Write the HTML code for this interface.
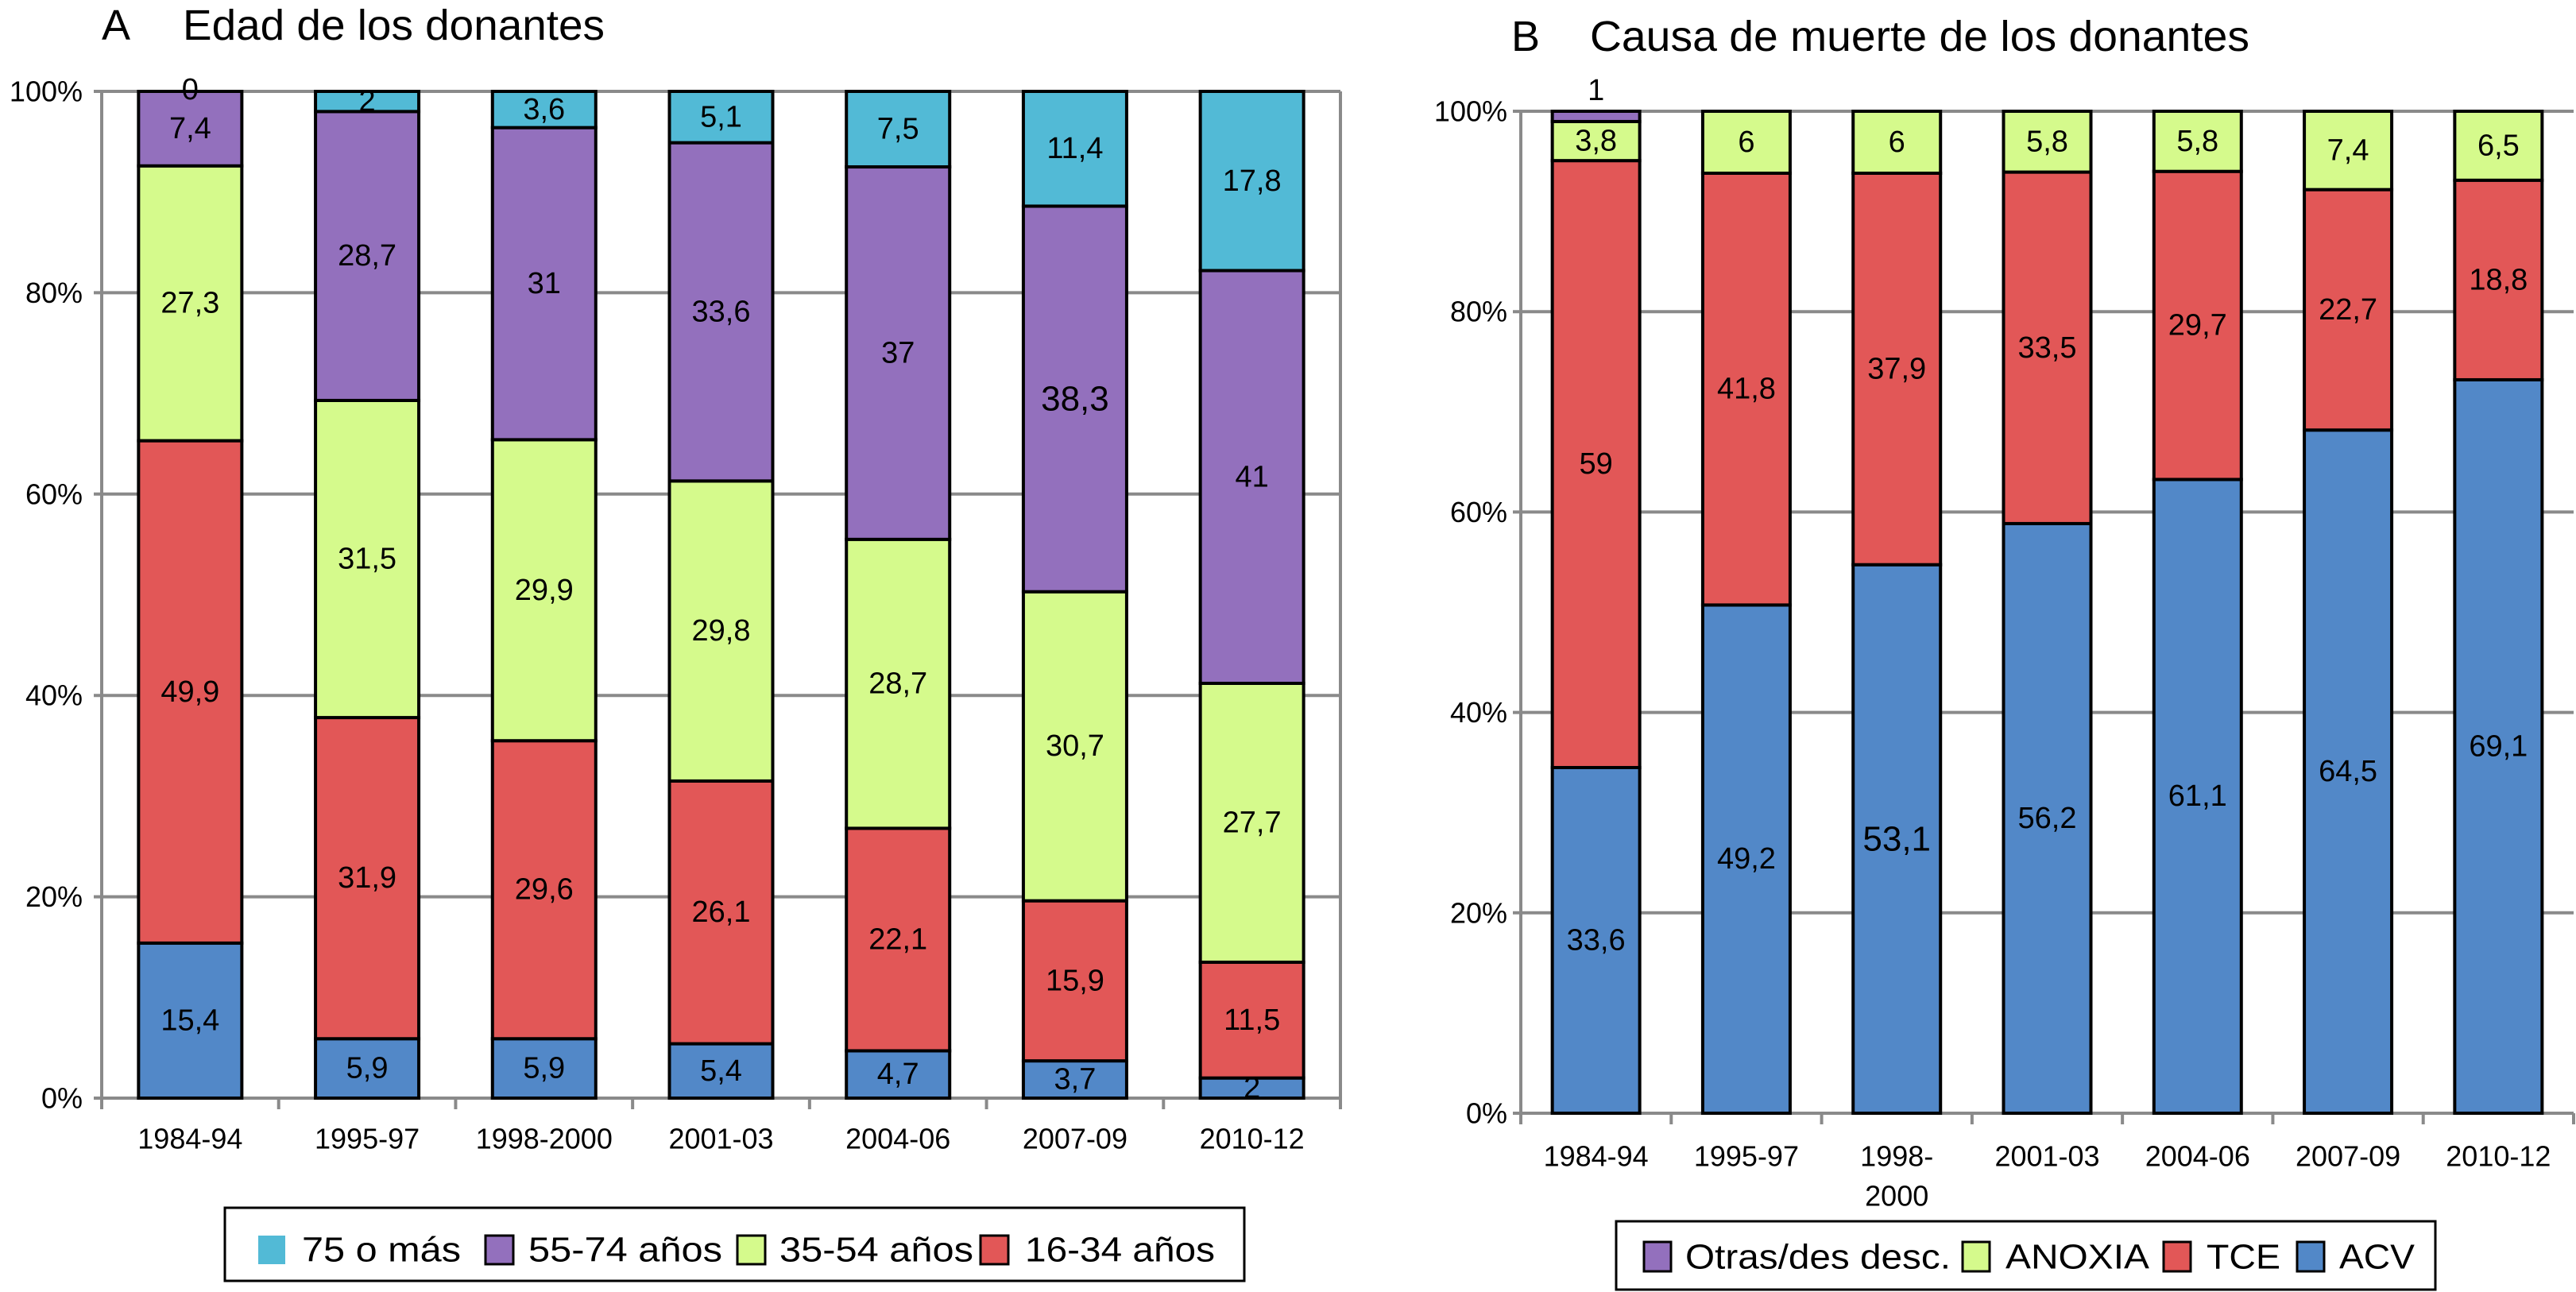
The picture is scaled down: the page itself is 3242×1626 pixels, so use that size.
<!DOCTYPE html>
<html>
<head>
<meta charset="utf-8">
<style>
html,body{margin:0;padding:0;background:#fff;}
svg{display:block;font-family:"Liberation Sans",Arial,sans-serif;}
</style>
</head>
<body>
<svg id="chart" width="3242" height="1626" viewBox="0 0 3242 1626" xmlns="http://www.w3.org/2000/svg">
  <text x="128" y="50" font-size="54">A</text>
  <text x="230" y="50" font-size="54" textLength="531" lengthAdjust="spacingAndGlyphs">Edad de los donantes</text>
  <text x="1902" y="64" font-size="54">B</text>
  <text x="2001" y="64" font-size="54" textLength="830" lengthAdjust="spacingAndGlyphs">Causa de muerte de los donantes</text>
  <g id="chartA"></g>
  <g id="chartB"></g>

  <g>
    <rect x="283" y="1520" width="1283" height="92" fill="#fff" stroke="#000" stroke-width="3"/>
    <g>
      <rect x="325" y="1555" width="34" height="36" fill="#52BAD6"/>
      <text x="380" y="1573" font-size="44" dominant-baseline="central" textLength="200" lengthAdjust="spacingAndGlyphs">75 o más</text>
    </g>
    <g>
      <rect x="611" y="1555" width="35" height="36" fill="#9370BD" stroke="#000" stroke-width="3"/>
      <text x="665" y="1573" font-size="44" dominant-baseline="central" textLength="244" lengthAdjust="spacingAndGlyphs">55-74 años</text>
    </g>
    <g>
      <rect x="928" y="1555" width="35" height="36" fill="#D5FA8C" stroke="#000" stroke-width="3"/>
      <text x="981" y="1573" font-size="44" dominant-baseline="central" textLength="244" lengthAdjust="spacingAndGlyphs">35-54 años</text>
    </g>
    <g>
      <rect x="1234" y="1555" width="35" height="36" fill="#E25757" stroke="#000" stroke-width="3"/>
      <text x="1290" y="1573" font-size="44" dominant-baseline="central" textLength="239" lengthAdjust="spacingAndGlyphs">16-34 años</text>
    </g>
  </g>

  <g>
    <rect x="2034" y="1537" width="1031" height="86" fill="#fff" stroke="#000" stroke-width="3"/>
    <g>
      <rect x="2069" y="1563" width="34" height="37" fill="#9370BD" stroke="#000" stroke-width="3"/>
      <text x="2121" y="1582" font-size="44" dominant-baseline="central" textLength="334" lengthAdjust="spacingAndGlyphs">Otras/des desc.</text>
    </g>
    <g>
      <rect x="2470" y="1563" width="34" height="37" fill="#D5FA8C" stroke="#000" stroke-width="3"/>
      <text x="2524" y="1582" font-size="44" dominant-baseline="central" textLength="181" lengthAdjust="spacingAndGlyphs">ANOXIA</text>
    </g>
    <g>
      <rect x="2723" y="1563" width="34" height="37" fill="#E25757" stroke="#000" stroke-width="3"/>
      <text x="2777" y="1582" font-size="44" dominant-baseline="central" textLength="93" lengthAdjust="spacingAndGlyphs">TCE</text>
    </g>
    <g>
      <rect x="2891" y="1563" width="34" height="37" fill="#5288C8" stroke="#000" stroke-width="3"/>
      <text x="2944" y="1582" font-size="44" dominant-baseline="central" textLength="95" lengthAdjust="spacingAndGlyphs">ACV</text>
    </g>
  </g>
</svg>
<script>
// ---- Chart A data (Edad de los donantes), stacked bottom -> top ----
const catsA = ["1984-94","1995-97","1998-2000","2001-03","2004-06","2007-09","2010-12"];
const a_lt16 = [15.4, 5.9, 5.9, 5.4, 4.7, 3.7, 2];
const a_16_34 = [49.9, 31.9, 29.6, 26.1, 22.1, 15.9, 11.5];
const a_35_54 = [27.3, 31.5, 29.9, 29.8, 28.7, 30.7, 27.7];
const a_55_74 = [7.4, 28.7, 31, 33.6, 37, 38.3, 41];
const a_75 = [0, 2, 3.6, 5.1, 7.5, 11.4, 17.8];
const seriesNamesA = ["menos-16","16-34","35-54","55-74","75-o-mas"];
const ticksA = ["0%","20%","40%","60%","80%","100%"];

// ---- Chart B data (Causa de muerte), stacked bottom -> top ----
const catsB = [["1984-94"],["1995-97"],["1998-","2000"],["2001-03"],["2004-06"],["2007-09"],["2010-12"]];
const b_acv = [33.6, 49.2, 53.1, 56.2, 61.1, 64.5, 69.1];
const b_tce = [59, 41.8, 37.9, 33.5, 29.7, 22.7, 18.8];
const b_anoxia = [3.8, 6, 6, 5.8, 5.8, 7.4, 6.5];
const b_otras = [1, 0, 0, 0, 0, 0, 0];
const seriesNamesB = ["acv","tce","anoxia","otras"];
const ticksB = ["0%","20%","40%","60%","80%","100%"];

const NS = "http://www.w3.org/2000/svg";
function mk(tag, attrs, parent){
  const e = document.createElementNS(NS, tag);
  for (const k in attrs) e.setAttribute(k, attrs[k]);
  parent.appendChild(e);
  return e;
}
function fmt(v){ return String(v).replace(".", ","); }

function drawChart(g, cfg, cats, series, colors, names, ticks){
  const n = cats.length;
  const step = (cfg.x1 - cfg.x0) / n;
  const yScale = p => cfg.y0 - (p / 100) * (cfg.y0 - cfg.y100);
  const xCenter = i => cfg.x0 + step * (i + 0.5);
  // gridlines + y ticks
  ticks.forEach((t, k) => {
    const p = k * 100 / (ticks.length - 1);
    const y = yScale(p);
    const gl = mk("line", {x1: cfg.x0 - 10, x2: cfg.x1, y1: y, y2: y, stroke: "#8a8a8a", "stroke-width": 4}, g);
    
    
    const tl = mk("text", {x: cfg.labelX, y: y, "font-size": 36, "text-anchor": "end", "dominant-baseline": "central"}, g);
    tl.textContent = t;
    
    
  });
  // axes
  const ya = mk("line", {x1: cfg.x0, x2: cfg.x0, y1: cfg.y100, y2: cfg.y0 + 14, stroke: "#8a8a8a", "stroke-width": 4}, g);
  
  
  if (cfg.rightBorder) {
    const rb = mk("line", {x1: cfg.x1, x2: cfg.x1, y1: cfg.y100, y2: cfg.y0 + 14, stroke: "#8a8a8a", "stroke-width": 4}, g);
    
    
  }
  for (let i = 1; i <= n; i++) {
    const x = cfg.x0 + step * i;
    const tk = mk("line", {x1: x, x2: x, y1: cfg.y0, y2: cfg.y0 + 14, stroke: "#8a8a8a", "stroke-width": 4}, g);
    
    
  }
  // bars
  for (let i = 0; i < n; i++) {
    let total = 0;
    series.forEach(s => total += s[i]);
    let cum = 0;
    const bx = xCenter(i) - cfg.bw / 2;
    series.forEach((s, j) => {
      const v = s[i];
      const pBot = cum / total * 100;
      cum += v;
      const pTop = cum / total * 100;
      const yT = yScale(pTop), yB = yScale(pBot);
      if (v > 0) {
        const r = mk("rect", {x: bx, y: yT, width: cfg.bw, height: yB - yT, fill: colors[j], stroke: "#000", "stroke-width": 4}, g);
        
        
      }
      if (names[j] === "otras" && v === 0) return;
      let ly = (yT + yB) / 2;
      if (v < 1.5) ly = yT - cfg.smallOffset;
      const big = cfg.bigLabels.includes(i + "-" + j);
      const t = mk("text", {x: xCenter(i), y: ly, "font-size": big ? 44 : 38, "text-anchor": "middle", "dominant-baseline": "central"}, g);
      t.textContent = fmt(v);
      
      
    });
  }
  // x labels
  cats.forEach((c, i) => {
    const lines = Array.isArray(c) ? c : [c];
    lines.forEach((ln, k) => {
      const t = mk("text", {x: xCenter(i), y: cfg.xLabelY + k * 50, "font-size": 36, "text-anchor": "middle", "dominant-baseline": "central"}, g);
      t.textContent = ln;
      
      
    });
  });
}

const colA = ["#5288C8","#E25757","#D5FA8C","#9370BD","#52BAD6"];
const colB = ["#5288C8","#E25757","#D5FA8C","#9370BD"];

drawChart(document.getElementById("chartA"),
  {x0:128, x1:1687, y0:1382, y100:115, bw:130, labelX:104, xLabelY:1433, rightBorder:true, smallOffset:2, bigLabels:["5-3"]},
  catsA, [a_lt16, a_16_34, a_35_54, a_55_74, a_75], colA, seriesNamesA, ticksA);

drawChart(document.getElementById("chartB"),
  {x0:1914, x1:3239, y0:1401, y100:140, bw:110, labelX:1897, xLabelY:1455, rightBorder:false, smallOffset:26, bigLabels:["2-0"]},
  catsB, [b_acv, b_tce, b_anoxia, b_otras], colB, seriesNamesB, ticksB);
</script>
</body>
</html>
